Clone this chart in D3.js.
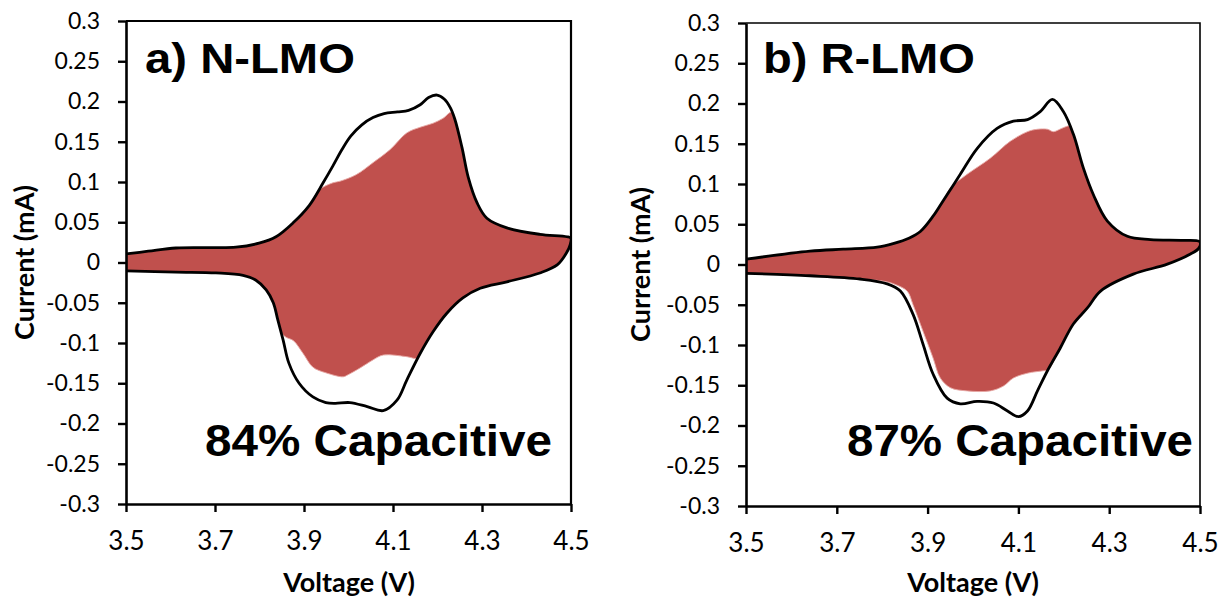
<!DOCTYPE html>
<html>
<head>
<meta charset="utf-8">
<script src="https://cdn.jsdelivr.net/npm/d3@7"></script>
<style>
  html, body { margin: 0; padding: 0; background: #fff; }
  svg { display: block; }
</style>
</head>
<body>
<script>
// Axis ticks
const voltageTicks = ["3.5", "3.7", "3.9", "4.1", "4.3", "4.5"];
const currentTicks = ["0.3", "0.25", "0.2", "0.15", "0.1", "0.05", "0",
  "-0.05", "-0.1", "-0.15", "-0.2", "-0.25", "-0.3"];

// N-LMO: total CV current, [voltage V, current mA]
const nlmoTotalAnodic = [
  [3.5, 0.0106], [3.55, 0.014], [3.612, 0.018], [3.68, 0.0185], [3.747, 0.019],
  [3.799, 0.024], [3.837, 0.032], [3.875, 0.049], [3.912, 0.071], [3.943, 0.099],
  [3.965, 0.120], [3.985, 0.140], [4.005, 0.157], [4.03, 0.171], [4.055, 0.180],
  [4.08, 0.185], [4.11, 0.187], [4.135, 0.189], [4.161, 0.196], [4.18, 0.205],
  [4.199, 0.208], [4.215, 0.203], [4.229, 0.192], [4.239, 0.178], [4.255, 0.143],
  [4.269, 0.106], [4.289, 0.074], [4.311, 0.055], [4.356, 0.043], [4.43, 0.035],
  [4.491, 0.032], [4.5, 0.030]
];
const nlmoTotalCathodic = [
  [4.498, 0.022], [4.49, 0.012], [4.469, -0.003], [4.43, -0.013], [4.356, -0.024],
  [4.296, -0.032], [4.257, -0.044], [4.221, -0.063], [4.19, -0.086], [4.161, -0.113],
  [4.131, -0.146], [4.109, -0.171], [4.078, -0.184], [4.042, -0.179], [4.003, -0.174],
  [3.97, -0.175], [3.949, -0.174], [3.92, -0.167], [3.889, -0.150], [3.866, -0.125],
  [3.853, -0.096], [3.841, -0.071], [3.831, -0.050], [3.815, -0.034], [3.792, -0.022],
  [3.763, -0.016], [3.702, -0.013], [3.612, -0.012], [3.5, -0.0105]
];
// N-LMO: capacitive contribution
const nlmoCapAnodic = [
  [3.5, 0.0106], [3.55, 0.014], [3.612, 0.018], [3.68, 0.0185], [3.747, 0.019],
  [3.799, 0.024], [3.837, 0.032], [3.875, 0.049], [3.912, 0.071], [3.934, 0.090],
  [3.965, 0.099], [3.981, 0.101], [4.017, 0.109], [4.055, 0.124], [4.093, 0.140],
  [4.131, 0.161], [4.161, 0.168], [4.19, 0.173], [4.212, 0.179], [4.232, 0.187],
  [4.239, 0.178], [4.255, 0.143], [4.269, 0.106], [4.289, 0.074], [4.311, 0.055],
  [4.356, 0.043], [4.43, 0.035], [4.491, 0.032], [4.5, 0.030]
];
const nlmoCapCathodic = [
  [4.498, 0.022], [4.49, 0.012], [4.469, -0.003], [4.43, -0.013], [4.356, -0.024],
  [4.296, -0.032], [4.257, -0.044], [4.221, -0.063], [4.19, -0.086], [4.161, -0.113],
  [4.154, -0.119], [4.131, -0.117], [4.078, -0.115], [4.055, -0.121], [4.026, -0.131],
  [3.997, -0.140], [3.988, -0.142], [3.949, -0.137], [3.92, -0.130], [3.898, -0.113],
  [3.876, -0.097], [3.86, -0.093], [3.849, -0.087], [3.841, -0.071], [3.831, -0.050],
  [3.815, -0.034], [3.792, -0.022], [3.763, -0.016], [3.702, -0.013], [3.612, -0.012],
  [3.5, -0.0105]
];

// R-LMO: total CV current
const rlmoTotalAnodic = [
  [3.5, 0.0066], [3.641, 0.0165], [3.714, 0.019], [3.789, 0.0215], [3.824, 0.026],
  [3.86, 0.033], [3.884, 0.041], [3.912, 0.060], [3.934, 0.079], [3.972, 0.112],
  [4.009, 0.144], [4.053, 0.169], [4.089, 0.178], [4.12, 0.180], [4.148, 0.190],
  [4.175, 0.205], [4.199, 0.190], [4.221, 0.162], [4.243, 0.120], [4.265, 0.087],
  [4.296, 0.054], [4.34, 0.035], [4.391, 0.031], [4.464, 0.030], [4.5, 0.028]
];
const rlmoTotalCathodic = [
  [4.497, 0.020], [4.479, 0.013], [4.428, 0.0004], [4.353, -0.012], [4.281, -0.033],
  [4.252, -0.054], [4.221, -0.074], [4.192, -0.104], [4.164, -0.132], [4.142, -0.157],
  [4.12, -0.182], [4.1, -0.189], [4.076, -0.182], [4.045, -0.172], [4.009, -0.170],
  [3.972, -0.173], [3.943, -0.166], [3.912, -0.136], [3.89, -0.099], [3.868, -0.062],
  [3.84, -0.033], [3.811, -0.024], [3.751, -0.018], [3.641, -0.014], [3.5, -0.011]
];
// R-LMO: capacitive contribution
const rlmoCapAnodic = [
  [3.5, 0.0066], [3.641, 0.0165], [3.714, 0.019], [3.789, 0.0215], [3.824, 0.026],
  [3.86, 0.033], [3.884, 0.041], [3.912, 0.060], [3.934, 0.079], [3.95, 0.095],
  [3.987, 0.112], [4.038, 0.132], [4.082, 0.153], [4.12, 0.165], [4.142, 0.168],
  [4.164, 0.168], [4.177, 0.165], [4.199, 0.170], [4.214, 0.172], [4.221, 0.162],
  [4.243, 0.120], [4.265, 0.087], [4.296, 0.054], [4.34, 0.035], [4.391, 0.031],
  [4.464, 0.030], [4.5, 0.028]
];
const rlmoCapCathodic = [
  [4.497, 0.020], [4.479, 0.013], [4.428, 0.0004], [4.353, -0.012], [4.281, -0.033],
  [4.252, -0.054], [4.221, -0.074], [4.192, -0.104], [4.165, -0.131], [4.155, -0.132],
  [4.12, -0.135], [4.089, -0.141], [4.067, -0.151], [4.038, -0.157], [3.987, -0.157],
  [3.95, -0.153], [3.928, -0.141], [3.912, -0.116], [3.89, -0.083], [3.868, -0.050],
  [3.855, -0.033], [3.83, -0.025], [3.806, -0.021], [3.751, -0.018], [3.641, -0.014],
  [3.5, -0.011]
];

const panels = [
  { id: "a", title: "a) N-LMO", note: "84% Capacitive",
    total: [nlmoTotalAnodic, nlmoTotalCathodic], cap: [nlmoCapAnodic, nlmoCapCathodic],
    left: 126, right: 571, top: 21, bottom: 504, frame: 2.2,
    yTitleX: 25, xTitleX: 349, titleX: 145, titleW: 210, noteX: 205, noteW: 347 },
  { id: "b", title: "b) R-LMO", note: "87% Capacitive",
    total: [rlmoTotalAnodic, rlmoTotalCathodic], cap: [rlmoCapAnodic, rlmoCapCathodic],
    left: 746, right: 1200, top: 23, bottom: 506, frame: 1.6,
    yTitleX: 641, xTitleX: 973, titleX: 763, titleW: 212, noteX: 847, noteW: 346 }
];

const svg = d3.select("body").append("svg")
  .attr("width", 1221).attr("height", 598);

const tickFont = "Lato, 'Open Sans', sans-serif";
const boldFont = "'Liberation Sans', Arial, sans-serif";

panels.forEach(p => {
  const x = d3.scaleLinear().domain([3.5, 4.5]).range([p.left, p.right]);
  const y = d3.scaleLinear().domain([-0.3, 0.3]).range([p.bottom, p.top]);
  const g = svg.append("g").attr("class", "panel-" + p.id);

  g.append("clipPath").attr("id", "clip-" + p.id)
    .append("rect").attr("x", p.left).attr("y", p.top)
    .attr("width", p.right - p.left).attr("height", p.bottom - p.top);

  const line = d3.line()
    .x(d => x(d[0])).y(d => y(d[1]))
    .curve(d3.curveCatmullRom.alpha(0.5));

  const plot = g.append("g").attr("clip-path", `url(#clip-${p.id})`);

  // capacitive area
  plot.append("path")
    .attr("d", line(p.cap[0].concat(p.cap[1])) + "Z")
    .attr("fill", "#C0504D")
    .attr("stroke", "#e6a7a4")
    .attr("stroke-width", 0.9);

  // total current loop
  plot.append("path")
    .attr("d", line(p.total[0].concat(p.total[1])))
    .attr("fill", "none")
    .attr("stroke", "#000")
    .attr("stroke-width", 2.8)
    .attr("stroke-linejoin", "round")
    .attr("stroke-linecap", "round");

  // frame (top and right)
  g.append("path")
    .attr("d", `M${p.left},${p.top}H${p.right}V${p.bottom}`)
    .attr("fill", "none").attr("stroke", "#000").attr("stroke-width", p.frame);

  // y axis
  const yAxis = d3.axisLeft(y)
    .tickValues(currentTicks.map(Number))
    .tickFormat((d, i) => currentTicks[i])
    .tickSizeOuter(0).tickSizeInner(8).tickPadding(18);
  const ya = g.append("g").attr("transform", `translate(${p.left},0)`).call(yAxis);
  ya.select(".domain").attr("stroke-width", 2.6);
  ya.selectAll(".tick line").attr("stroke-width", 2.4);
  ya.selectAll(".tick text")
    .attr("font-family", tickFont).attr("font-size", 23).attr("fill", "#000");

  // x axis
  const xAxis = d3.axisBottom(x)
    .tickValues(voltageTicks.map(Number))
    .tickFormat((d, i) => voltageTicks[i])
    .tickSizeOuter(0).tickSizeInner(8).tickPadding(20);
  const xa = g.append("g").attr("transform", `translate(0,${p.bottom})`).call(xAxis);
  xa.select(".domain").attr("stroke-width", 2.6);
  xa.selectAll(".tick line").attr("stroke-width", 2.4);
  xa.selectAll(".tick text")
    .attr("font-family", tickFont).attr("font-size", 26).attr("fill", "#000");

  // axis titles
  g.append("text")
    .attr("transform", `translate(${p.yTitleX},${(p.top + p.bottom) / 2}) rotate(-90)`)
    .attr("text-anchor", "middle").attr("dy", "0.35em")
    .attr("font-family", tickFont).attr("font-weight", 700).attr("font-size", 27)
    .text("Current (mA)");
  g.append("text")
    .attr("x", p.xTitleX).attr("y", 592)
    .attr("text-anchor", "middle")
    .attr("font-family", tickFont).attr("font-weight", 700).attr("font-size", 27)
    .text("Voltage (V)");

  // panel label and capacitive share
  g.append("text")
    .attr("x", p.titleX).attr("y", 73)
    .attr("font-family", boldFont).attr("font-weight", 700).attr("font-size", 43)
    .attr("textLength", p.titleW).attr("lengthAdjust", "spacingAndGlyphs")
    .text(p.title);
  g.append("text")
    .attr("x", p.noteX).attr("y", 456)
    .attr("font-family", boldFont).attr("font-weight", 700).attr("font-size", 45)
    .attr("textLength", p.noteW).attr("lengthAdjust", "spacingAndGlyphs")
    .text(p.note);
});
</script>
</body>
</html>
